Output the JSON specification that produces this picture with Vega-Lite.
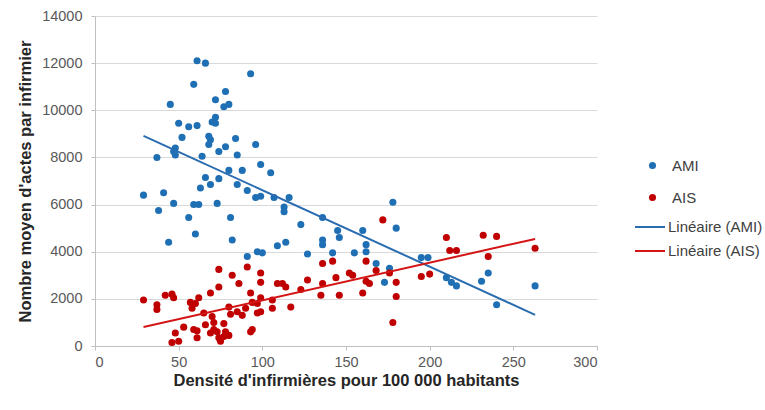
{
  "$schema": "https://vega.github.io/schema/vega-lite/v6.json",
  "autosize": "none",
  "width": 502,
  "height": 330,
  "padding": {"left": 95, "top": 16, "right": 168, "bottom": 64},
  "background": "white",
  "config": {
    "view": {"stroke": null},
    "font": "Liberation Sans",
    "axis": {
      "labelFont": "Liberation Sans",
      "labelFontSize": 14.5,
      "labelColor": "#595959",
      "titleFont": "Liberation Sans",
      "titleFontSize": 16.5,
      "titleFontWeight": "bold",
      "titleColor": "#262626",
      "domainColor": "#bfbfbf",
      "tickColor": "#bfbfbf",
      "tickSize": 4,
      "gridColor": "#d9d9d9",
      "gridWidth": 1
    },
    "legend": {
      "orient": "none",
      "labelFont": "Liberation Sans",
      "labelFontSize": 15,
      "labelColor": "#404040"
    }
  },
  "data": {
    "values": [
      {"densite": 29, "actes": 6400, "serie": "AMI", "tendance": "Linéaire (AMI)"},
      {"densite": 37, "actes": 8000, "serie": "AMI", "tendance": "Linéaire (AMI)"},
      {"densite": 38, "actes": 5750, "serie": "AMI", "tendance": "Linéaire (AMI)"},
      {"densite": 41, "actes": 6500, "serie": "AMI", "tendance": "Linéaire (AMI)"},
      {"densite": 45, "actes": 10250, "serie": "AMI", "tendance": "Linéaire (AMI)"},
      {"densite": 44, "actes": 4400, "serie": "AMI", "tendance": "Linéaire (AMI)"},
      {"densite": 47, "actes": 8250, "serie": "AMI", "tendance": "Linéaire (AMI)"},
      {"densite": 48, "actes": 8100, "serie": "AMI", "tendance": "Linéaire (AMI)"},
      {"densite": 48, "actes": 8400, "serie": "AMI", "tendance": "Linéaire (AMI)"},
      {"densite": 47, "actes": 6050, "serie": "AMI", "tendance": "Linéaire (AMI)"},
      {"densite": 50, "actes": 9450, "serie": "AMI", "tendance": "Linéaire (AMI)"},
      {"densite": 52, "actes": 8850, "serie": "AMI", "tendance": "Linéaire (AMI)"},
      {"densite": 56, "actes": 9300, "serie": "AMI", "tendance": "Linéaire (AMI)"},
      {"densite": 56, "actes": 5450, "serie": "AMI", "tendance": "Linéaire (AMI)"},
      {"densite": 59, "actes": 11100, "serie": "AMI", "tendance": "Linéaire (AMI)"},
      {"densite": 59, "actes": 6000, "serie": "AMI", "tendance": "Linéaire (AMI)"},
      {"densite": 60, "actes": 4750, "serie": "AMI", "tendance": "Linéaire (AMI)"},
      {"densite": 61, "actes": 12100, "serie": "AMI", "tendance": "Linéaire (AMI)"},
      {"densite": 61, "actes": 9350, "serie": "AMI", "tendance": "Linéaire (AMI)"},
      {"densite": 62, "actes": 6000, "serie": "AMI", "tendance": "Linéaire (AMI)"},
      {"densite": 63, "actes": 6700, "serie": "AMI", "tendance": "Linéaire (AMI)"},
      {"densite": 64, "actes": 8050, "serie": "AMI", "tendance": "Linéaire (AMI)"},
      {"densite": 66, "actes": 12000, "serie": "AMI", "tendance": "Linéaire (AMI)"},
      {"densite": 66, "actes": 7150, "serie": "AMI", "tendance": "Linéaire (AMI)"},
      {"densite": 68, "actes": 8900, "serie": "AMI", "tendance": "Linéaire (AMI)"},
      {"densite": 69, "actes": 8750, "serie": "AMI", "tendance": "Linéaire (AMI)"},
      {"densite": 68, "actes": 8550, "serie": "AMI", "tendance": "Linéaire (AMI)"},
      {"densite": 69, "actes": 6850, "serie": "AMI", "tendance": "Linéaire (AMI)"},
      {"densite": 70, "actes": 9500, "serie": "AMI", "tendance": "Linéaire (AMI)"},
      {"densite": 72, "actes": 9450, "serie": "AMI", "tendance": "Linéaire (AMI)"},
      {"densite": 72, "actes": 9700, "serie": "AMI", "tendance": "Linéaire (AMI)"},
      {"densite": 72, "actes": 10450, "serie": "AMI", "tendance": "Linéaire (AMI)"},
      {"densite": 73, "actes": 6050, "serie": "AMI", "tendance": "Linéaire (AMI)"},
      {"densite": 74, "actes": 8250, "serie": "AMI", "tendance": "Linéaire (AMI)"},
      {"densite": 74, "actes": 7100, "serie": "AMI", "tendance": "Linéaire (AMI)"},
      {"densite": 77, "actes": 10150, "serie": "AMI", "tendance": "Linéaire (AMI)"},
      {"densite": 78, "actes": 10800, "serie": "AMI", "tendance": "Linéaire (AMI)"},
      {"densite": 78, "actes": 8450, "serie": "AMI", "tendance": "Linéaire (AMI)"},
      {"densite": 80, "actes": 10250, "serie": "AMI", "tendance": "Linéaire (AMI)"},
      {"densite": 80, "actes": 7450, "serie": "AMI", "tendance": "Linéaire (AMI)"},
      {"densite": 81, "actes": 5450, "serie": "AMI", "tendance": "Linéaire (AMI)"},
      {"densite": 82, "actes": 4500, "serie": "AMI", "tendance": "Linéaire (AMI)"},
      {"densite": 84, "actes": 8800, "serie": "AMI", "tendance": "Linéaire (AMI)"},
      {"densite": 85, "actes": 8100, "serie": "AMI", "tendance": "Linéaire (AMI)"},
      {"densite": 85, "actes": 6850, "serie": "AMI", "tendance": "Linéaire (AMI)"},
      {"densite": 88, "actes": 7450, "serie": "AMI", "tendance": "Linéaire (AMI)"},
      {"densite": 91, "actes": 6600, "serie": "AMI", "tendance": "Linéaire (AMI)"},
      {"densite": 91, "actes": 3800, "serie": "AMI", "tendance": "Linéaire (AMI)"},
      {"densite": 93, "actes": 11550, "serie": "AMI", "tendance": "Linéaire (AMI)"},
      {"densite": 96, "actes": 8550, "serie": "AMI", "tendance": "Linéaire (AMI)"},
      {"densite": 96, "actes": 6300, "serie": "AMI", "tendance": "Linéaire (AMI)"},
      {"densite": 99, "actes": 7700, "serie": "AMI", "tendance": "Linéaire (AMI)"},
      {"densite": 99, "actes": 6350, "serie": "AMI", "tendance": "Linéaire (AMI)"},
      {"densite": 97, "actes": 4000, "serie": "AMI", "tendance": "Linéaire (AMI)"},
      {"densite": 100, "actes": 3950, "serie": "AMI", "tendance": "Linéaire (AMI)"},
      {"densite": 105, "actes": 7350, "serie": "AMI", "tendance": "Linéaire (AMI)"},
      {"densite": 107, "actes": 6300, "serie": "AMI", "tendance": "Linéaire (AMI)"},
      {"densite": 109, "actes": 4250, "serie": "AMI", "tendance": "Linéaire (AMI)"},
      {"densite": 113, "actes": 5900, "serie": "AMI", "tendance": "Linéaire (AMI)"},
      {"densite": 113, "actes": 5700, "serie": "AMI", "tendance": "Linéaire (AMI)"},
      {"densite": 114, "actes": 4400, "serie": "AMI", "tendance": "Linéaire (AMI)"},
      {"densite": 116, "actes": 6300, "serie": "AMI", "tendance": "Linéaire (AMI)"},
      {"densite": 123, "actes": 5150, "serie": "AMI", "tendance": "Linéaire (AMI)"},
      {"densite": 127, "actes": 3900, "serie": "AMI", "tendance": "Linéaire (AMI)"},
      {"densite": 136, "actes": 5450, "serie": "AMI", "tendance": "Linéaire (AMI)"},
      {"densite": 136, "actes": 4500, "serie": "AMI", "tendance": "Linéaire (AMI)"},
      {"densite": 136, "actes": 4300, "serie": "AMI", "tendance": "Linéaire (AMI)"},
      {"densite": 142, "actes": 3950, "serie": "AMI", "tendance": "Linéaire (AMI)"},
      {"densite": 145, "actes": 4900, "serie": "AMI", "tendance": "Linéaire (AMI)"},
      {"densite": 146, "actes": 4600, "serie": "AMI", "tendance": "Linéaire (AMI)"},
      {"densite": 155, "actes": 3950, "serie": "AMI", "tendance": "Linéaire (AMI)"},
      {"densite": 160, "actes": 4900, "serie": "AMI", "tendance": "Linéaire (AMI)"},
      {"densite": 162, "actes": 4300, "serie": "AMI", "tendance": "Linéaire (AMI)"},
      {"densite": 162, "actes": 4000, "serie": "AMI", "tendance": "Linéaire (AMI)"},
      {"densite": 168, "actes": 3500, "serie": "AMI", "tendance": "Linéaire (AMI)"},
      {"densite": 173, "actes": 2700, "serie": "AMI", "tendance": "Linéaire (AMI)"},
      {"densite": 176, "actes": 3300, "serie": "AMI", "tendance": "Linéaire (AMI)"},
      {"densite": 178, "actes": 6100, "serie": "AMI", "tendance": "Linéaire (AMI)"},
      {"densite": 180, "actes": 5000, "serie": "AMI", "tendance": "Linéaire (AMI)"},
      {"densite": 195, "actes": 3750, "serie": "AMI", "tendance": "Linéaire (AMI)"},
      {"densite": 199, "actes": 3750, "serie": "AMI", "tendance": "Linéaire (AMI)"},
      {"densite": 210, "actes": 2900, "serie": "AMI", "tendance": "Linéaire (AMI)"},
      {"densite": 213, "actes": 2700, "serie": "AMI", "tendance": "Linéaire (AMI)"},
      {"densite": 216, "actes": 2550, "serie": "AMI", "tendance": "Linéaire (AMI)"},
      {"densite": 231, "actes": 2750, "serie": "AMI", "tendance": "Linéaire (AMI)"},
      {"densite": 235, "actes": 3100, "serie": "AMI", "tendance": "Linéaire (AMI)"},
      {"densite": 240, "actes": 1750, "serie": "AMI", "tendance": "Linéaire (AMI)"},
      {"densite": 263, "actes": 2550, "serie": "AMI", "tendance": "Linéaire (AMI)"},
      {"densite": 29, "actes": 1950, "serie": "AIS", "tendance": "Linéaire (AIS)"},
      {"densite": 37, "actes": 1750, "serie": "AIS", "tendance": "Linéaire (AIS)"},
      {"densite": 37, "actes": 1550, "serie": "AIS", "tendance": "Linéaire (AIS)"},
      {"densite": 42, "actes": 2150, "serie": "AIS", "tendance": "Linéaire (AIS)"},
      {"densite": 46, "actes": 2200, "serie": "AIS", "tendance": "Linéaire (AIS)"},
      {"densite": 47, "actes": 2050, "serie": "AIS", "tendance": "Linéaire (AIS)"},
      {"densite": 48, "actes": 550, "serie": "AIS", "tendance": "Linéaire (AIS)"},
      {"densite": 46, "actes": 150, "serie": "AIS", "tendance": "Linéaire (AIS)"},
      {"densite": 50, "actes": 200, "serie": "AIS", "tendance": "Linéaire (AIS)"},
      {"densite": 53, "actes": 800, "serie": "AIS", "tendance": "Linéaire (AIS)"},
      {"densite": 57, "actes": 1850, "serie": "AIS", "tendance": "Linéaire (AIS)"},
      {"densite": 60, "actes": 1800, "serie": "AIS", "tendance": "Linéaire (AIS)"},
      {"densite": 62, "actes": 2050, "serie": "AIS", "tendance": "Linéaire (AIS)"},
      {"densite": 58, "actes": 1600, "serie": "AIS", "tendance": "Linéaire (AIS)"},
      {"densite": 65, "actes": 1400, "serie": "AIS", "tendance": "Linéaire (AIS)"},
      {"densite": 59, "actes": 700, "serie": "AIS", "tendance": "Linéaire (AIS)"},
      {"densite": 61, "actes": 650, "serie": "AIS", "tendance": "Linéaire (AIS)"},
      {"densite": 61, "actes": 350, "serie": "AIS", "tendance": "Linéaire (AIS)"},
      {"densite": 66, "actes": 900, "serie": "AIS", "tendance": "Linéaire (AIS)"},
      {"densite": 69, "actes": 2250, "serie": "AIS", "tendance": "Linéaire (AIS)"},
      {"densite": 70, "actes": 1250, "serie": "AIS", "tendance": "Linéaire (AIS)"},
      {"densite": 71, "actes": 1000, "serie": "AIS", "tendance": "Linéaire (AIS)"},
      {"densite": 71, "actes": 700, "serie": "AIS", "tendance": "Linéaire (AIS)"},
      {"densite": 69, "actes": 550, "serie": "AIS", "tendance": "Linéaire (AIS)"},
      {"densite": 73, "actes": 600, "serie": "AIS", "tendance": "Linéaire (AIS)"},
      {"densite": 74, "actes": 350, "serie": "AIS", "tendance": "Linéaire (AIS)"},
      {"densite": 75, "actes": 200, "serie": "AIS", "tendance": "Linéaire (AIS)"},
      {"densite": 77, "actes": 950, "serie": "AIS", "tendance": "Linéaire (AIS)"},
      {"densite": 77, "actes": 400, "serie": "AIS", "tendance": "Linéaire (AIS)"},
      {"densite": 78, "actes": 600, "serie": "AIS", "tendance": "Linéaire (AIS)"},
      {"densite": 80, "actes": 450, "serie": "AIS", "tendance": "Linéaire (AIS)"},
      {"densite": 74, "actes": 3250, "serie": "AIS", "tendance": "Linéaire (AIS)"},
      {"densite": 74, "actes": 2500, "serie": "AIS", "tendance": "Linéaire (AIS)"},
      {"densite": 82, "actes": 3000, "serie": "AIS", "tendance": "Linéaire (AIS)"},
      {"densite": 86, "actes": 2650, "serie": "AIS", "tendance": "Linéaire (AIS)"},
      {"densite": 80, "actes": 1650, "serie": "AIS", "tendance": "Linéaire (AIS)"},
      {"densite": 81, "actes": 1350, "serie": "AIS", "tendance": "Linéaire (AIS)"},
      {"densite": 85, "actes": 1450, "serie": "AIS", "tendance": "Linéaire (AIS)"},
      {"densite": 88, "actes": 1300, "serie": "AIS", "tendance": "Linéaire (AIS)"},
      {"densite": 90, "actes": 1600, "serie": "AIS", "tendance": "Linéaire (AIS)"},
      {"densite": 93, "actes": 600, "serie": "AIS", "tendance": "Linéaire (AIS)"},
      {"densite": 91, "actes": 3350, "serie": "AIS", "tendance": "Linéaire (AIS)"},
      {"densite": 93, "actes": 2250, "serie": "AIS", "tendance": "Linéaire (AIS)"},
      {"densite": 94, "actes": 1850, "serie": "AIS", "tendance": "Linéaire (AIS)"},
      {"densite": 97, "actes": 1800, "serie": "AIS", "tendance": "Linéaire (AIS)"},
      {"densite": 97, "actes": 1400, "serie": "AIS", "tendance": "Linéaire (AIS)"},
      {"densite": 94, "actes": 700, "serie": "AIS", "tendance": "Linéaire (AIS)"},
      {"densite": 99, "actes": 3100, "serie": "AIS", "tendance": "Linéaire (AIS)"},
      {"densite": 99, "actes": 2700, "serie": "AIS", "tendance": "Linéaire (AIS)"},
      {"densite": 99, "actes": 2050, "serie": "AIS", "tendance": "Linéaire (AIS)"},
      {"densite": 99, "actes": 1450, "serie": "AIS", "tendance": "Linéaire (AIS)"},
      {"densite": 106, "actes": 1950, "serie": "AIS", "tendance": "Linéaire (AIS)"},
      {"densite": 106, "actes": 1600, "serie": "AIS", "tendance": "Linéaire (AIS)"},
      {"densite": 109, "actes": 2650, "serie": "AIS", "tendance": "Linéaire (AIS)"},
      {"densite": 112, "actes": 2650, "serie": "AIS", "tendance": "Linéaire (AIS)"},
      {"densite": 114, "actes": 2500, "serie": "AIS", "tendance": "Linéaire (AIS)"},
      {"densite": 117, "actes": 1650, "serie": "AIS", "tendance": "Linéaire (AIS)"},
      {"densite": 123, "actes": 2400, "serie": "AIS", "tendance": "Linéaire (AIS)"},
      {"densite": 127, "actes": 2800, "serie": "AIS", "tendance": "Linéaire (AIS)"},
      {"densite": 135, "actes": 2150, "serie": "AIS", "tendance": "Linéaire (AIS)"},
      {"densite": 136, "actes": 3500, "serie": "AIS", "tendance": "Linéaire (AIS)"},
      {"densite": 136, "actes": 2650, "serie": "AIS", "tendance": "Linéaire (AIS)"},
      {"densite": 142, "actes": 3600, "serie": "AIS", "tendance": "Linéaire (AIS)"},
      {"densite": 144, "actes": 2900, "serie": "AIS", "tendance": "Linéaire (AIS)"},
      {"densite": 146, "actes": 2150, "serie": "AIS", "tendance": "Linéaire (AIS)"},
      {"densite": 152, "actes": 3100, "serie": "AIS", "tendance": "Linéaire (AIS)"},
      {"densite": 154, "actes": 3000, "serie": "AIS", "tendance": "Linéaire (AIS)"},
      {"densite": 160, "actes": 2250, "serie": "AIS", "tendance": "Linéaire (AIS)"},
      {"densite": 162, "actes": 3600, "serie": "AIS", "tendance": "Linéaire (AIS)"},
      {"densite": 162, "actes": 2750, "serie": "AIS", "tendance": "Linéaire (AIS)"},
      {"densite": 164, "actes": 2650, "serie": "AIS", "tendance": "Linéaire (AIS)"},
      {"densite": 168, "actes": 3200, "serie": "AIS", "tendance": "Linéaire (AIS)"},
      {"densite": 172, "actes": 5350, "serie": "AIS", "tendance": "Linéaire (AIS)"},
      {"densite": 176, "actes": 3100, "serie": "AIS", "tendance": "Linéaire (AIS)"},
      {"densite": 180, "actes": 2700, "serie": "AIS", "tendance": "Linéaire (AIS)"},
      {"densite": 180, "actes": 2100, "serie": "AIS", "tendance": "Linéaire (AIS)"},
      {"densite": 178, "actes": 1000, "serie": "AIS", "tendance": "Linéaire (AIS)"},
      {"densite": 195, "actes": 2950, "serie": "AIS", "tendance": "Linéaire (AIS)"},
      {"densite": 200, "actes": 3050, "serie": "AIS", "tendance": "Linéaire (AIS)"},
      {"densite": 210, "actes": 4600, "serie": "AIS", "tendance": "Linéaire (AIS)"},
      {"densite": 212, "actes": 4050, "serie": "AIS", "tendance": "Linéaire (AIS)"},
      {"densite": 216, "actes": 4050, "serie": "AIS", "tendance": "Linéaire (AIS)"},
      {"densite": 232, "actes": 4700, "serie": "AIS", "tendance": "Linéaire (AIS)"},
      {"densite": 235, "actes": 3800, "serie": "AIS", "tendance": "Linéaire (AIS)"},
      {"densite": 240, "actes": 4650, "serie": "AIS", "tendance": "Linéaire (AIS)"},
      {"densite": 263, "actes": 4150, "serie": "AIS", "tendance": "Linéaire (AIS)"}
    ]
  },
  "encoding": {
    "x": {
      "field": "densite",
      "type": "quantitative",
      "scale": {"domain": [0, 300], "nice": false},
      "axis": {
        "title": "Densité d'infirmières pour 100 000 habitants",
        "values": [0, 50, 100, 150, 200, 250, 300],
        "grid": false,
        "labelPadding": 5,
        "titlePadding": 4
      }
    },
    "y": {
      "field": "actes",
      "type": "quantitative",
      "scale": {"domain": [0, 14000], "nice": false},
      "axis": {
        "title": "Nombre moyen d'actes par infirmier",
        "values": [0, 2000, 4000, 6000, 8000, 10000, 12000, 14000],
        "format": "d",
        "grid": true,
        "labelPadding": 9,
        "titlePadding": 8
      }
    }
  },
  "layer": [
    {
      "mark": {"type": "point", "filled": true, "size": 50, "opacity": 1},
      "encoding": {
        "color": {
          "field": "serie",
          "type": "nominal",
          "scale": {
            "domain": ["AMI", "AIS"],
            "range": ["#1f6fb4", "#c00000"]
          },
          "legend": {
            "title": null,
            "orient": "none",
            "legendX": 550,
            "legendY": 142,
            "symbolType": "circle",
            "symbolSize": 50,
            "symbolStrokeWidth": 0,
            "rowPadding": 16,
            "labelOffset": 12
          }
        }
      }
    },
    {
      "transform": [
        {"regression": "actes", "on": "densite", "groupby": ["tendance"]}
      ],
      "mark": {"type": "line", "strokeWidth": 2},
      "encoding": {
        "stroke": {
          "field": "tendance",
          "type": "nominal",
          "scale": {
            "domain": ["Linéaire (AMI)", "Linéaire (AIS)"],
            "range": ["#2a6cb0", "#d41515"]
          },
          "legend": {
            "title": null,
            "orient": "none",
            "legendX": 539,
            "legendY": 195,
            "symbolType": "stroke",
            "symbolSize": 900,
            "symbolStrokeWidth": 2,
            "rowPadding": 0,
            "labelOffset": 2
          }
        }
      }
    }
  ]
}
